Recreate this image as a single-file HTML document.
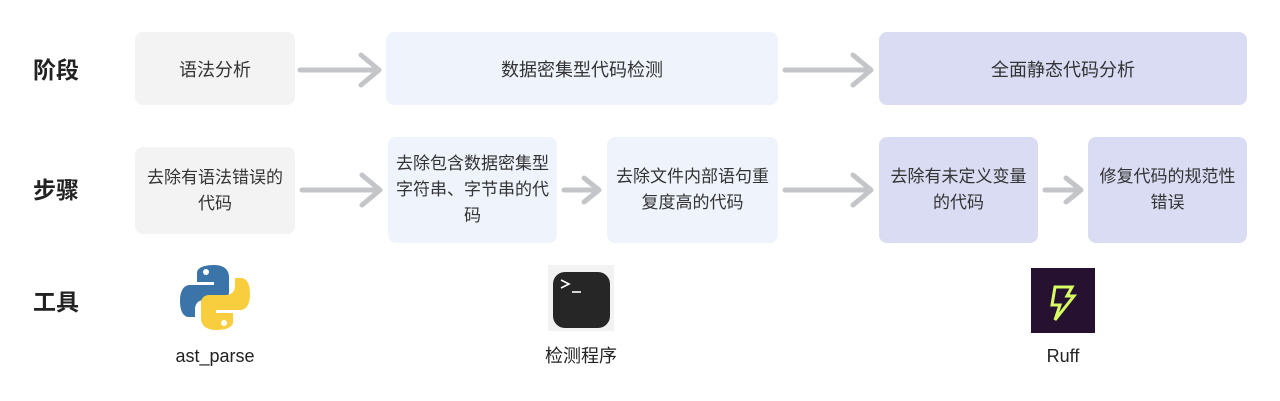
<!DOCTYPE html>
<html><head><meta charset="utf-8"><style>
body{margin:0;width:1280px;height:401px;background:#fff;position:relative;overflow:hidden;font-family:"Liberation Sans","Noto Sans CJK SC",sans-serif;}
.b{position:absolute;border-radius:8px;display:flex;align-items:center;justify-content:center;text-align:center;font-size:17px;line-height:26px;color:#333;}
.r1{font-size:18px;padding-top:3px;box-sizing:border-box}
.g{background:#f3f3f3}.l{background:#eef3fc}.p{background:#d9dcf3}
.h{position:absolute;left:33px;font-size:23px;line-height:24px;font-weight:bold;color:#222;}
.t{position:absolute;font-size:18px;line-height:20px;color:#222;transform:translateX(-50%);}
svg{position:absolute;left:0;top:0}
</style></head><body>
<div class="h" style="top:58px">阶段</div>
<div class="h" style="top:178px">步骤</div>
<div class="h" style="top:290px">工具</div>

<div class="b g r1" style="left:135px;top:32px;width:160px;height:73px">语法分析</div>
<div class="b l r1" style="left:386px;top:32px;width:392px;height:73px">数据密集型代码检测</div>
<div class="b p r1" style="left:879px;top:32px;width:368px;height:73px">全面静态代码分析</div>

<div class="b g" style="left:135px;top:147px;width:160px;height:87px">去除有语法错误的<br>代码</div>
<div class="b l" style="left:388px;top:137px;width:169px;height:106px">去除包含数据密集型<br>字符串、字节串的代<br>码</div>
<div class="b l" style="left:607px;top:137px;width:171px;height:106px">去除文件内部语句重<br>复度高的代码</div>
<div class="b p" style="left:879px;top:137px;width:159px;height:106px">去除有未定义变量<br>的代码</div>
<div class="b p" style="left:1088px;top:137px;width:159px;height:106px">修复代码的规范性<br>错误</div>

<svg width="1280" height="401">
<g stroke="#c3c5c9" stroke-width="5" fill="none" stroke-linecap="round" stroke-linejoin="round">
<path d="M300 70H379M361 55L379 70L361 85"/>
<path d="M785 70H871M853 55L871 70L853 85"/>
<path d="M302 190H380M362 175L380 190L362 205"/>
<path d="M564 190H599M584 178L599 190L584 202"/>
<path d="M785 190H871M853 175L871 190L853 205"/>
<path d="M1045 190H1081M1066 178L1081 190L1066 202"/>
</g>
<g>
<path d="M214 265c-18 0-17 8-17 8v9h17v3h-24s-10-1-10 16 9 16 9 16h6v-8s0-9 9-9h17s8 0 8-8v-15s1-12-15-12z" fill="#3a74a8"/>
<circle cx="206" cy="272" r="3" fill="#fff"/>
<path d="M216 330c18 0 17-8 17-8v-9h-17v-3h24s10 1 10-16-9-16-9-16h-6v8s0 9-9 9h-17s-8 0-8 8v15s-1 12 15 12z" fill="#f8ce3e"/>
<circle cx="224" cy="323" r="3" fill="#fff"/>
</g>
<rect x="548" y="265" width="66" height="66" fill="#f2f2f2"/>
<rect x="553" y="272" width="57" height="56" rx="12" fill="#262626"/>
<path d="M561 280l8 4-8 4" stroke="#fff" stroke-width="1.6" fill="none"/>
<path d="M572 292h9" stroke="#fff" stroke-width="1.6"/>
<rect x="1031" y="268" width="64" height="65" fill="#261230"/>
<path d="M1055 287h17l-5 9h7l-19 24 5-15h-8z" fill="none" stroke="#d7ff64" stroke-width="3" stroke-linejoin="miter"/>
</svg>

<div class="t" style="left:215px;top:346px">ast_parse</div>
<div class="t" style="left:581px;top:346px">检测程序</div>
<div class="t" style="left:1063px;top:346px">Ruff</div>
</body></html>
